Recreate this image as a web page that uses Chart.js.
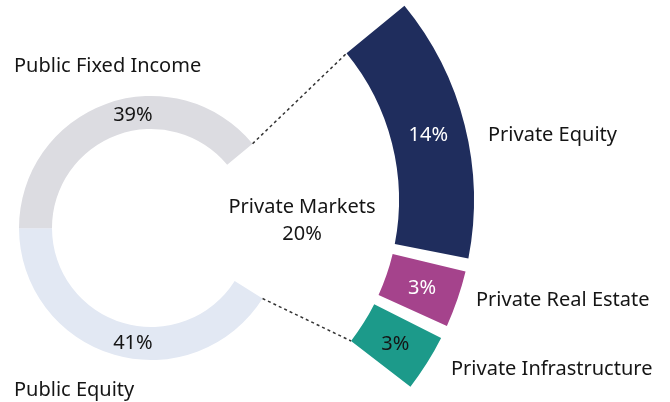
<!DOCTYPE html>
<html>
<head>
<meta charset="utf-8">
<script src="https://cdn.jsdelivr.net/npm/chart.js@4.4.0/dist/chart.umd.min.js"></script>
<style>
  body { margin: 0; background: #fff; }
  #wrap { position: relative; width: 670px; height: 402px; overflow: hidden; }
  #wrap canvas { position: absolute; left: 0; top: 0; }
</style>
</head>
<body>
<div id="wrap">
  <canvas id="overview_chart" width="670" height="402"></canvas>
  <canvas id="private_chart" width="670" height="402"></canvas>
</div>
<script>
// whole portfolio (private markets is left open as a gap)
const overviewLabels = ['Private Markets', 'Public Equity', 'Public Fixed Income'];
const overviewValues = [20, 41, 39];
const overviewColors = ['rgba(0,0,0,0)', '#e2e8f3', '#dcdce1'];

// private markets breakdown
const privateLabels = ['Private Equity', 'Private Real Estate', 'Private Infrastructure'];
const privateValues = [14, 3, 3];
const privateColors = ['#1f2d5d', '#a5438c', '#1c9a8a'];

const FONT = '"Noto Sans", "Open Sans", sans-serif';
const TEXT = '#151515';

// positions of the category names (left x, middle y)
const overviewNamePos = [null, [14, 389], [14, 65]];
const privateNamePos = [[488, 134], [476, 299], [451, 368]];
// where the public percentages sit on the ring (degrees clockwise from top)
const overviewPctAngle = [null, 189, 351];
const privatePctColor = ['#ffffff', '#ffffff', TEXT];
const GAP_DEG = 2.5;
const DY = 1.5;

function pct(v) { return v + '%'; }

const overviewChart = new Chart(document.getElementById('overview_chart'), {
    type: 'doughnut',
    data: {
        labels: overviewLabels,
        datasets: [{
            data: overviewValues,
            backgroundColor: overviewColors,
            borderWidth: 0,
            clip: false
        }]
    },
    options: {
        responsive: false,
        devicePixelRatio: 1,
        animation: false,
        events: [],
        rotation: 50.3,
        radius: 132,
        cutout: '75%',
        layout: { padding: { left: 0, right: 368, top: 54, bottom: 0 } },
        plugins: { legend: { display: false }, tooltip: { enabled: false } }
    }
});

// open small gaps between the private slices
const gapPlugin = {
    id: 'gaps',
    afterDatasetUpdate(chart, args) {
        const shift = GAP_DEG * Math.PI / 180;
        args.meta.data.forEach((arc, i) => {
            arc.startAngle += shift * i;
            arc.endAngle += shift * i;
        });
    }
};

const labelPlugin = {
    id: 'labels',
    afterDraw(chart) {
        const ctx = chart.ctx;
        const left = overviewChart.getDatasetMeta(0).data;
        const right = chart.getDatasetMeta(0).data;

        // dashed connectors
        const gap = left[0];
        const first = right[0];
        const last = right[privateValues.length - 1];
        ctx.save();
        ctx.strokeStyle = '#333';
        ctx.lineWidth = 1.5;
        ctx.setLineDash([3, 3]);
        ctx.beginPath();
        ctx.moveTo(gap.x + Math.cos(gap.startAngle) * gap.outerRadius, gap.y + Math.sin(gap.startAngle) * gap.outerRadius);
        ctx.lineTo(first.x + Math.cos(first.startAngle) * first.innerRadius, first.y + Math.sin(first.startAngle) * first.innerRadius);
        ctx.moveTo(gap.x + Math.cos(gap.endAngle) * gap.outerRadius, gap.y + Math.sin(gap.endAngle) * gap.outerRadius);
        ctx.lineTo(last.x + Math.cos(last.endAngle) * last.innerRadius, last.y + Math.sin(last.endAngle) * last.innerRadius);
        ctx.stroke();
        ctx.restore();

        ctx.save();
        ctx.font = '20px ' + FONT;
        ctx.textBaseline = 'middle';

        // category names
        ctx.fillStyle = TEXT;
        ctx.textAlign = 'left';
        overviewLabels.forEach((name, i) => {
            if (overviewNamePos[i]) ctx.fillText(name, overviewNamePos[i][0], overviewNamePos[i][1] + DY);
        });
        privateLabels.forEach((name, i) => {
            ctx.fillText(name, privateNamePos[i][0], privateNamePos[i][1] + DY);
        });

        // private markets total, in the open part of the ring
        ctx.textAlign = 'center';
        ctx.fillText(overviewLabels[0], 302, 206 + DY);
        ctx.fillText(pct(overviewValues[0]), 302, 233 + DY);

        // public percentages
        left.forEach((arc, i) => {
            if (overviewPctAngle[i] === null) return;
            const a = (overviewPctAngle[i] - 90) * Math.PI / 180;
            const r = (arc.innerRadius + arc.outerRadius) / 2;
            ctx.fillText(pct(overviewValues[i]), arc.x + Math.cos(a) * r, arc.y + Math.sin(a) * r + DY);
        });

        // private percentages
        privateValues.forEach((v, i) => {
            const p = right[i].tooltipPosition();
            ctx.fillStyle = privatePctColor[i];
            ctx.fillText(pct(v), p.x, p.y + DY);
        });
        ctx.restore();
    }
};

const privateChart = new Chart(document.getElementById('private_chart'), {
    type: 'doughnut',
    data: {
        labels: privateLabels.concat(['']),
        datasets: [{
            data: privateValues.concat([overviewValues[1] + overviewValues[2]]),
            backgroundColor: privateColors.concat(['rgba(0,0,0,0)']),
            borderWidth: 0,
            clip: false
        }]
    },
    options: {
        responsive: false,
        devicePixelRatio: 1,
        animation: false,
        events: [],
        rotation: 50.6,
        radius: 306,
        cutout: '75.5%',
        layout: { padding: { left: 0, right: 334, top: 0, bottom: 2 } },
        plugins: { legend: { display: false }, tooltip: { enabled: false } }
    },
    plugins: [gapPlugin, labelPlugin]
});
</script>
</body>
</html>
